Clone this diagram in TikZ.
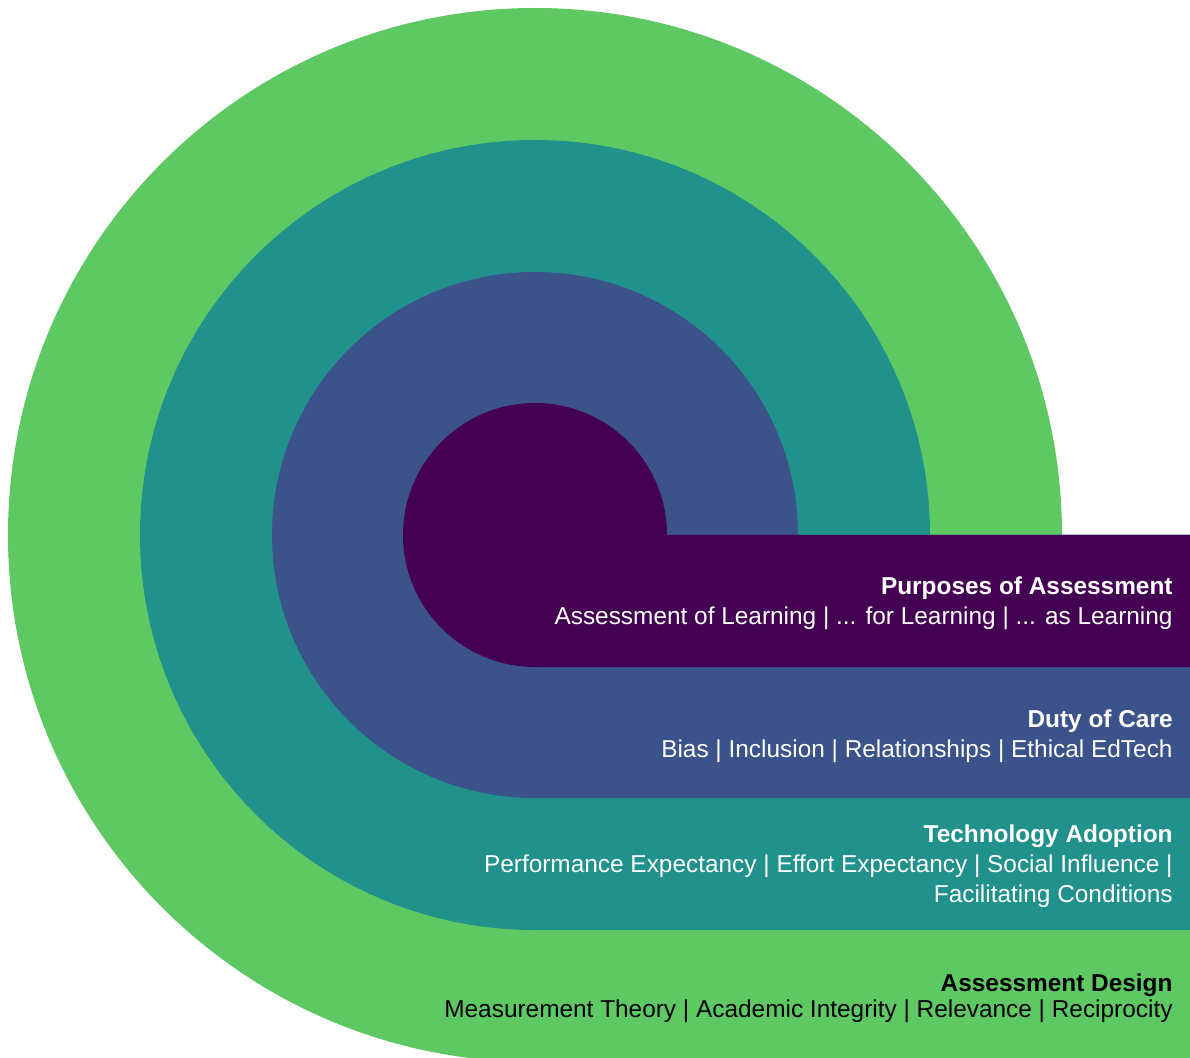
\documentclass[tikz,border=0pt]{standalone}
\usepackage{fontspec}
\setmainfont{Liberation Sans}
\usetikzlibrary{positioning}
\definecolor{vgreen}{HTML}{5EC962}
\definecolor{vteal}{HTML}{21918C}
\definecolor{vblue}{HTML}{3B528B}
\definecolor{vpurple}{HTML}{440154}
\tikzset{
  layer/.style={fill=#1},
  head/.style={anchor=base east,inner sep=0pt,font=\fontsize{12.2}{15}\selectfont\bfseries},
  body/.style={anchor=base east,inner sep=0pt,align=right,font=\fontsize{12.2}{15}\selectfont}
}
% one layer: circle of radius #2 round (535,522), tail to the right edge
\newcommand{\snail}[2]{\fill[layer=#1] (1190,522) -- (535+#2,522) arc[start angle=0,end angle=270,radius=#2] -- (1190,522-#2) -- cycle;}
\begin{document}
\begin{tikzpicture}[x=0.5pt,y=0.5pt]
        \useasboundingbox (0,0) rectangle (1190,1057);
        \clip (0,0) rectangle (1190,1057);
        \snail{vgreen}{527}
        \snail{vteal}{395}
        \snail{vblue}{263}
        \snail{vpurple}{132}
        \node[head,text=white] (purpT) at (1173,462) {Purposes of Assessment};
        \node[body,text=white,below=15pt of purpT.base east,anchor=base east] (purpB) {Assessment of Learning | ... for Learning | ... as Learning};
        \node[head,text=white] (dutyT) at (1173,330) {Duty of Care};
        \node[body,text=white,below=15pt of dutyT.base east,anchor=base east] (dutyB) {Bias | Inclusion | Relationships | Ethical EdTech};
        \node[head,text=white] (techT) at (1173,215) {Technology Adoption};
        % base of a two-line node is its last line
        \node[body,text=white,below=30pt of techT.base east,anchor=base east] (techB) {Performance Expectancy | Effort Expectancy | Social Influence |\\Facilitating Conditions};
        \node[head,text=black] (desT) at (1173,66) {Assessment Design};
        \node[body,text=black,below=13pt of desT.base east,anchor=base east] (desB) {Measurement Theory | Academic Integrity | Relevance | Reciprocity};
\end{tikzpicture}
\end{document}
